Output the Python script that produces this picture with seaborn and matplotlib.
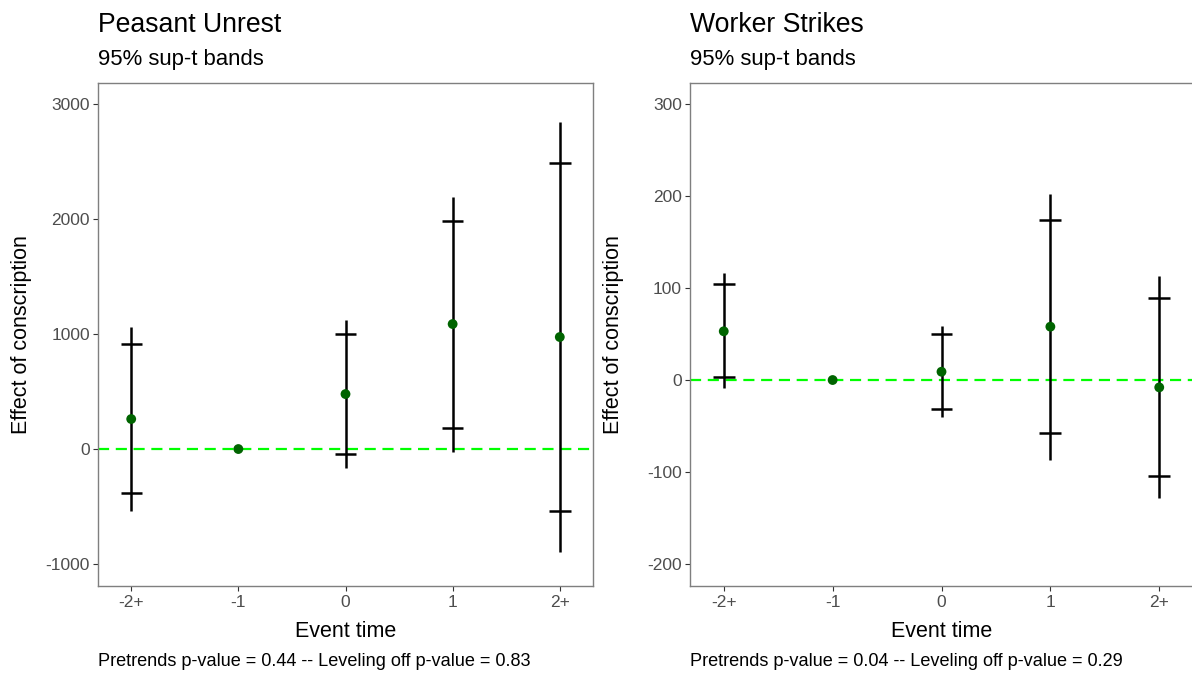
import numpy as np
import matplotlib.pyplot as plt
import seaborn as sns

# event-study data
event_labels = ["-2+", "-1", "0", "1", "2+"]

peasant_est = [261, 0, 478, 1087, 974]
peasant_ci_lo = [-383, np.nan, -43, 183, -539]
peasant_ci_hi = [913, np.nan, 1000, 1983, 2487]
peasant_band_lo = [-539, np.nan, -165, -26, -896]
peasant_band_hi = [1061, np.nan, 1122, 2191, 2843]
peasant_yticks = [-1000, 0, 1000, 2000, 3000]
peasant_ylim = (-1191, 3183)
peasant_caption = "Pretrends p-value = 0.44 -- Leveling off p-value = 0.83"

strikes_est = [53, 0, 9, 58, -8]
strikes_ci_lo = [3, np.nan, -32, -58, -104]
strikes_ci_hi = [104, np.nan, 50, 174, 89]
strikes_band_lo = [-9, np.nan, -40, -87, -128]
strikes_band_hi = [116, np.nan, 59, 202, 113]
strikes_yticks = [-200, -100, 0, 100, 200, 300]
strikes_ylim = (-224, 323)
strikes_caption = "Pretrends p-value = 0.04 -- Leveling off p-value = 0.29"

sns.set_style("white")
plt.rcParams["font.family"] = ["Liberation Sans", "DejaVu Sans"]
plt.rcParams["axes.unicode_minus"] = False

W, H = 1192, 673
fig = plt.figure(figsize=(W / 100, H / 100), dpi=100)


def fx(px):
    return px / W


def fy(py):
    return 1 - py / H


def draw_panel(left_px, right_px, title, est, ci_lo, ci_hi, band_lo, band_hi,
               yticks, ylim, caption):
    top_px, bottom_px = 83, 586
    ax = fig.add_axes([fx(left_px), fy(bottom_px),
                       (right_px - left_px) / W, (bottom_px - top_px) / H])
    pos = np.arange(len(event_labels))

    ax.axhline(0, color="#00FF00", lw=1.6, ls=(0, (5, 3)), zorder=1)
    ax.vlines(pos, band_lo, band_hi, color="black", lw=1.8, zorder=2)
    ax.hlines(ci_lo, pos - 0.1, pos + 0.1, color="black", lw=1.8, zorder=2)
    ax.hlines(ci_hi, pos - 0.1, pos + 0.1, color="black", lw=1.8, zorder=2)
    sns.scatterplot(x=pos, y=est, color="#006400", s=50, edgecolor="none",
                    zorder=3, ax=ax)

    ax.set_xlim(-0.31, 4.31)
    ax.set_ylim(*ylim)
    ax.set_xticks(pos)
    ax.set_xticklabels(event_labels)
    ax.set_yticks(yticks)
    ax.tick_params(axis="both", bottom=True, left=True, length=3.6,
                   width=0.8, color="#333333", labelcolor="#4D4D4D",
                   labelsize=12.5, pad=2.2)
    ax.tick_params(axis="x", pad=3)
    for sp in ax.spines.values():
        sp.set_visible(True)
        sp.set_color("#7F7F7F")
        sp.set_linewidth(1.0)
    ax.set_xlabel("")
    ax.set_ylabel("")

    fig.text(fx(left_px), fy(32), title, fontsize=19.2, color="black",
             ha="left", va="baseline")
    fig.text(fx(left_px), fy(65), "95% sup-t bands", fontsize=15.9,
             color="black", ha="left", va="baseline")
    fig.text(fx((left_px + right_px) / 2), fy(637), "Event time",
             fontsize=15.5, color="black", ha="center", va="baseline")
    fig.text(fx(left_px - 76), fy((top_px + bottom_px) / 2),
             "Effect of conscription", fontsize=15.5, color="black",
             rotation=90, ha="center", va="center")
    fig.text(fx(left_px), fy(666), caption, fontsize=13.1, color="black",
             ha="left", va="baseline")
    return ax


draw_panel(98, 593, "Peasant Unrest", peasant_est, peasant_ci_lo,
           peasant_ci_hi, peasant_band_lo, peasant_band_hi,
           peasant_yticks, peasant_ylim, peasant_caption)
draw_panel(690, 1193, "Worker Strikes", strikes_est, strikes_ci_lo,
           strikes_ci_hi, strikes_band_lo, strikes_band_hi,
           strikes_yticks, strikes_ylim, strikes_caption)

fig.savefig("out.png", dpi=100)
